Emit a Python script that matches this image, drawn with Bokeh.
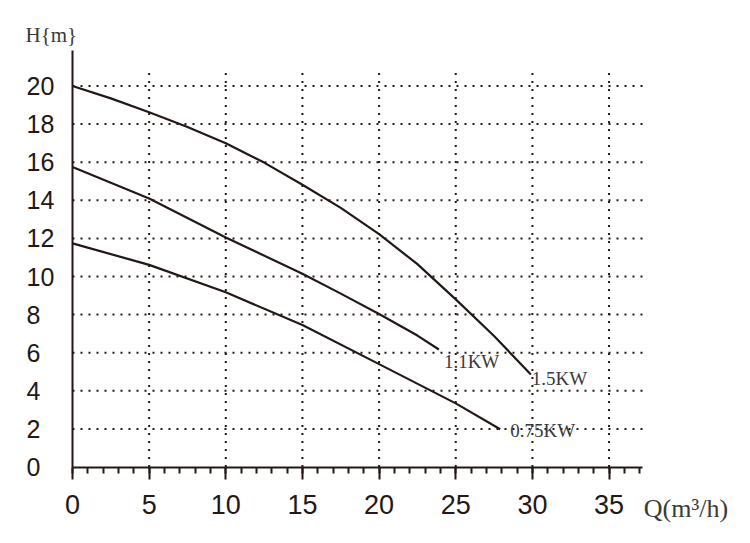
from bokeh.plotting import figure
from bokeh.models import Range1d, FixedTicker, ColumnDataSource, LabelSet, Label, LinearAxis
from bokeh.core.properties import value
from bokeh.embed import file_html
from bokeh.resources import INLINE

# ---- data ----
q_15 = [0, 2.5, 5, 7.5, 10, 12.5, 15, 17.5, 20, 22.5, 25, 27.5, 29.9]
h_15 = [20.0, 19.35, 18.62, 17.85, 17.0, 15.98, 14.82, 13.6, 12.22, 10.65, 8.8, 6.88, 4.85]

q_11 = [0, 5, 10, 15, 17.5, 20, 22.5, 23.9]
h_11 = [15.75, 14.1, 12.05, 10.14, 9.1, 8.03, 6.9, 6.17]

q_075 = [0, 5, 10, 15, 20, 25, 27.9]
h_075 = [11.74, 10.61, 9.17, 7.45, 5.4, 3.34, 1.98]

curve_names = ["1.5KW", "1.1KW", "0.75KW"]

x_major_ticks = [0, 5, 10, 15, 20, 25, 30, 35]
x_minor_ticks = list(range(0, 38))
y_ticks = [0, 2, 4, 6, 8, 10, 12, 14, 16, 18, 20]
y_tick_labels = [str(t) for t in y_ticks]

x_title = "Q(m³/h)"
y_title = "H{m}"

# ---- layout / style constants ----
W, H = 734, 527
PX_X0, PX_Y0 = 72.0, 466.5      # canvas position of the data origin
SX, SY = 15.33, 19.05           # pixels per data unit
X_END = 37.2                    # end of x axis line
Y_END = 21.86                   # end of y axis line
GRID_TOP = 21.0                 # top of vertical grid lines
INK = "#231815"
TXT2 = "#3a3a3a"
label_dx = [1, 5, 10]
label_dy = [-4, -12, -1]

x_range = Range1d(-PX_X0 / SX, (W - PX_X0) / SX)
y_range = Range1d(-(H - PX_Y0) / SY, PX_Y0 / SY)

p = figure(width=W, height=H, x_range=x_range, y_range=y_range,
           output_backend="svg", toolbar_location=None,
           x_axis_location=None, y_axis_location=None,
           min_border=0, min_border_left=0, min_border_right=0,
           min_border_top=0, min_border_bottom=0)
p.outline_line_color = None
p.background_fill_color = "white"
p.xgrid.visible = False
p.ygrid.visible = False

# axes placed at the data origin
xax = LinearAxis(fixed_location=0, bounds=(0, X_END),
                 ticker=FixedTicker(ticks=x_major_ticks, minor_ticks=x_minor_ticks))
xax.axis_line_color = INK
xax.axis_line_width = 2
xax.major_tick_line_color = INK
xax.major_tick_line_width = 2
xax.minor_tick_line_color = INK
xax.minor_tick_line_width = 2
xax.major_tick_in = 0
xax.major_tick_out = 12
xax.minor_tick_in = 0
xax.minor_tick_out = 6
xax.major_label_text_font = "Liberation Sans"
xax.major_label_text_font_size = "27px"
xax.major_label_text_color = INK
xax.major_label_standoff = 16
p.add_layout(xax, "below")

yax = LinearAxis(fixed_location=0, bounds=(0, Y_END),
                 ticker=FixedTicker(ticks=y_ticks, minor_ticks=[]))
yax.axis_line_color = INK
yax.axis_line_width = 2
yax.major_tick_in = 0
yax.major_tick_out = 0
yax.minor_tick_in = 0
yax.minor_tick_out = 0
yax.major_label_overrides = {t: "" for t in y_ticks}
p.add_layout(yax, "left")

# dotted grid
hy = [t for t in y_ticks if t > 0]
p.segment(x0=[0] * len(hy), y0=hy, x1=[X_END] * len(hy), y1=hy,
          line_color=INK, line_width=2, line_dash="2 6")
vx = [t for t in x_major_ticks if t > 0]
p.segment(x0=vx, y0=[0] * len(vx), x1=vx, y1=[GRID_TOP] * len(vx),
          line_color=INK, line_width=2, line_dash="2 6")

# curves
for qs, hs in [(q_15, h_15), (q_11, h_11), (q_075, h_075)]:
    p.line(qs, hs, line_color=INK, line_width=2.2, line_join="round")

# y tick labels (left-aligned as in the reference)
ysrc = ColumnDataSource(dict(x=[0] * len(y_ticks), y=y_ticks, t=y_tick_labels))
p.add_layout(LabelSet(x="x", y="y", text="t", source=ysrc, x_offset=-46, y_offset=0,
                      text_align="left", text_baseline="middle",
                      text_font=value("Liberation Sans"), text_font_size="25px",
                      text_color=INK))

# curve labels
ends = [(q_15[-1], h_15[-1]), (q_11[-1], h_11[-1]), (q_075[-1], h_075[-1])]
for (ex, ey), name, dx, dy in zip(ends, curve_names, label_dx, label_dy):
    p.add_layout(Label(x=ex, y=ey, text=name, x_offset=dx, y_offset=dy,
                       text_align="left", text_baseline="middle",
                       text_font="Liberation Serif", text_font_size="19px",
                       text_color=TXT2))

# axis titles
p.add_layout(Label(x=0, y=Y_END, text=y_title, x_offset=-47, y_offset=16,
                   text_align="left", text_baseline="middle",
                   text_font="Liberation Serif", text_font_size="21px", text_color=TXT2))
p.add_layout(Label(x=X_END, y=0, text=x_title, x_offset=1, y_offset=-41,
                   text_align="left", text_baseline="middle",
                   text_font="Liberation Serif", text_font_size="26px", text_color=TXT2))

open("out.html", "w").write(file_html(p, INLINE))
